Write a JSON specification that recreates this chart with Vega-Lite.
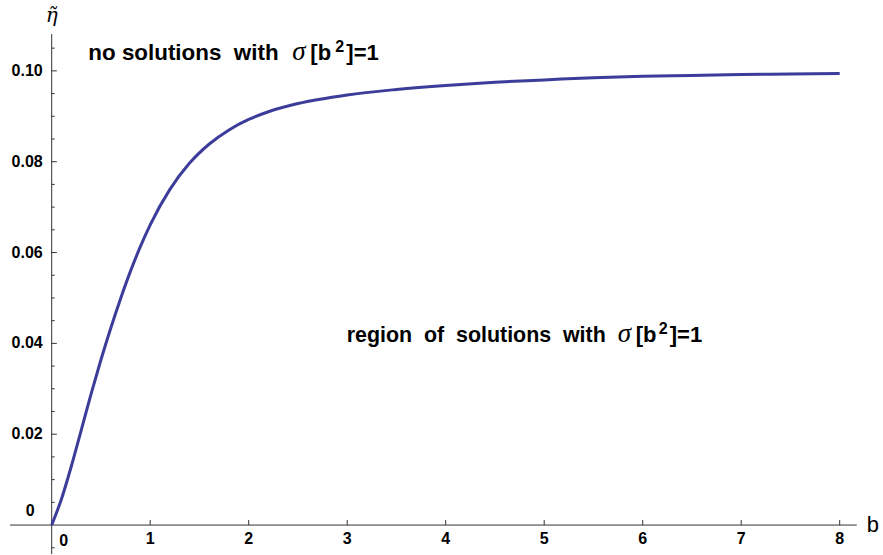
{
  "$schema": "https://vega.github.io/schema/vega-lite/v6.json",
  "width": 883,
  "height": 555,
  "autosize": {"type": "fit", "contains": "padding"},
  "padding": 0,
  "background": "white",
  "config": {"view": {"stroke": null}},
  "encoding": {
    "x": {"field": "x", "type": "quantitative", "scale": {"domain": [-0.5249, 8.4396], "nice": false, "zero": false}, "axis": null},
    "y": {"field": "y", "type": "quantitative", "scale": {"domain": [-0.006374, 0.1156], "nice": false, "zero": false}, "axis": null}
  },
  "layer": [
    {
      "data": {"values": [{"x": -0.423, "y": 0}]},
      "mark": {"type": "rule", "color": "#333333", "strokeWidth": 1},
      "encoding": {"x2": {"datum": 8.173}}
    },
    {
      "data": {"values": [{"x": 0, "y": -0.0064}]},
      "mark": {"type": "rule", "color": "#333333", "strokeWidth": 1},
      "encoding": {"y2": {"datum": 0.1081}}
    },
    {
      "data": {"values": [
        {"x": 0, "y": -0.005}, {"x": 0, "y": 0.005}, {"x": 0, "y": 0.01}, {"x": 0, "y": 0.015},
        {"x": 0, "y": 0.025}, {"x": 0, "y": 0.03}, {"x": 0, "y": 0.035},
        {"x": 0, "y": 0.045}, {"x": 0, "y": 0.05}, {"x": 0, "y": 0.055},
        {"x": 0, "y": 0.065}, {"x": 0, "y": 0.07}, {"x": 0, "y": 0.075},
        {"x": 0, "y": 0.085}, {"x": 0, "y": 0.09}, {"x": 0, "y": 0.095}, {"x": 0, "y": 0.105}
      ]},
      "mark": {"type": "rule", "color": "#333333", "strokeWidth": 1},
      "encoding": {"x2": {"datum": 0.03}}
    },
    {
      "data": {"values": [
        {"x": 0, "y": 0.02}, {"x": 0, "y": 0.04}, {"x": 0, "y": 0.06}, {"x": 0, "y": 0.08}, {"x": 0, "y": 0.1}
      ]},
      "mark": {"type": "rule", "color": "#333333", "strokeWidth": 1},
      "encoding": {"x2": {"datum": 0.052}}
    },
    {
      "data": {"values": [
        {"x": 1, "y": 0}, {"x": 2, "y": 0}, {"x": 3, "y": 0}, {"x": 4, "y": 0},
        {"x": 5, "y": 0}, {"x": 6, "y": 0}, {"x": 7, "y": 0}, {"x": 8, "y": 0}
      ]},
      "mark": {"type": "rule", "color": "#333333", "strokeWidth": 1},
      "encoding": {"y2": {"datum": 0.0011}}
    },
    {
      "data": {"values": [
        {"x": 0, "y": 0.02, "t": "0.02"}, {"x": 0, "y": 0.04, "t": "0.04"}, {"x": 0, "y": 0.06, "t": "0.06"},
        {"x": 0, "y": 0.08, "t": "0.08"}, {"x": 0, "y": 0.1, "t": "0.10"}
      ]},
      "mark": {"type": "text", "align": "right", "baseline": "middle", "dx": -9, "font": "Liberation Sans", "fontWeight": "bold", "fontSize": 16, "color": "black"},
      "encoding": {"text": {"field": "t"}}
    },
    {
      "data": {"values": [{"x": 0, "y": 0, "t": "0"}]},
      "mark": {"type": "text", "align": "right", "baseline": "middle", "dx": -17, "dy": -14, "font": "Liberation Sans", "fontWeight": "bold", "fontSize": 16, "color": "black"},
      "encoding": {"text": {"field": "t"}}
    },
    {
      "data": {"values": [{"x": 0, "y": 0, "t": "0"}]},
      "mark": {"type": "text", "align": "center", "baseline": "middle", "dx": 12, "dy": 16, "font": "Liberation Sans", "fontWeight": "bold", "fontSize": 16, "color": "black"},
      "encoding": {"text": {"field": "t"}}
    },
    {
      "data": {"values": [
        {"x": 1, "y": 0, "t": "1"}, {"x": 2, "y": 0, "t": "2"}, {"x": 3, "y": 0, "t": "3"}, {"x": 4, "y": 0, "t": "4"},
        {"x": 5, "y": 0, "t": "5"}, {"x": 6, "y": 0, "t": "6"}, {"x": 7, "y": 0, "t": "7"}, {"x": 8, "y": 0, "t": "8"}
      ]},
      "mark": {"type": "text", "align": "center", "baseline": "middle", "dy": 14, "font": "Liberation Sans", "fontWeight": "bold", "fontSize": 16, "color": "black"},
      "encoding": {"text": {"field": "t"}}
    },
    {
      "data": {"values": [
        {"x": 0, "y": 0}, {"x": 0.1, "y": 0.0058}, {"x": 0.2, "y": 0.013}, {"x": 0.3, "y": 0.0209},
        {"x": 0.4, "y": 0.0289}, {"x": 0.5, "y": 0.0364}, {"x": 0.6, "y": 0.0434}, {"x": 0.7, "y": 0.0499},
        {"x": 0.8, "y": 0.0559}, {"x": 0.9, "y": 0.0613}, {"x": 1.0, "y": 0.0661}, {"x": 1.2, "y": 0.0739},
        {"x": 1.4, "y": 0.0797}, {"x": 1.6, "y": 0.0839}, {"x": 1.8, "y": 0.087}, {"x": 2.0, "y": 0.0893},
        {"x": 2.2, "y": 0.091}, {"x": 2.5, "y": 0.0928}, {"x": 3.0, "y": 0.0947}, {"x": 3.5, "y": 0.0959},
        {"x": 4.0, "y": 0.0968}, {"x": 4.5, "y": 0.0975}, {"x": 5.0, "y": 0.098}, {"x": 5.5, "y": 0.0985},
        {"x": 6.0, "y": 0.0988}, {"x": 6.5, "y": 0.099}, {"x": 7.0, "y": 0.0992}, {"x": 7.5, "y": 0.0993},
        {"x": 8.0, "y": 0.0994}
      ]},
      "mark": {"type": "line", "color": "#3c3c9a", "strokeWidth": 3, "interpolate": "monotone"},
      "encoding": {}
    },
    {
      "data": {"values": [{"x": 8.274, "y": -0.0016, "t": "b"}]},
      "mark": {"type": "text", "align": "left", "baseline": "alphabetic", "font": "Liberation Sans", "fontSize": 22, "color": "black"},
      "encoding": {"text": {"field": "t"}}
    },
    {
      "data": {"values": [{"x": 0, "y": 0.1108, "t": "η̃"}]},
      "mark": {"type": "text", "align": "center", "baseline": "alphabetic", "font": "DejaVu Serif", "fontStyle": "italic", "fontSize": 20, "color": "black"},
      "encoding": {"text": {"field": "t"}}
    },
    {
      "data": {"values": [{"x": 0.3716, "y": 0.1024, "t": "no solutions \u00a0with"}]},
      "mark": {"type": "text", "align": "left", "baseline": "alphabetic", "font": "Liberation Sans", "fontWeight": "bold", "fontSize": 22.4, "color": "black"},
      "encoding": {"text": {"field": "t"}}
    },
    {
      "data": {"values": [{"x": 0.3716, "y": 0.1024, "t": "σ"}]},
      "mark": {"type": "text", "align": "left", "baseline": "alphabetic", "dx": 204, "font": "Liberation Serif", "fontStyle": "italic", "fontSize": 27, "color": "black"},
      "encoding": {"text": {"field": "t"}}
    },
    {
      "data": {"values": [{"x": 0.3716, "y": 0.1024, "t": "[b"}]},
      "mark": {"type": "text", "align": "left", "baseline": "alphabetic", "dx": 222, "font": "Liberation Sans", "fontWeight": "bold", "fontSize": 22, "color": "black"},
      "encoding": {"text": {"field": "t"}}
    },
    {
      "data": {"values": [{"x": 0.3716, "y": 0.1024, "t": "2"}]},
      "mark": {"type": "text", "align": "left", "baseline": "alphabetic", "dx": 247, "dy": -8, "font": "Liberation Sans", "fontWeight": "bold", "fontSize": 16, "color": "black"},
      "encoding": {"text": {"field": "t"}}
    },
    {
      "data": {"values": [{"x": 0.3716, "y": 0.1024, "t": "]=1"}]},
      "mark": {"type": "text", "align": "left", "baseline": "alphabetic", "dx": 258, "font": "Liberation Sans", "fontWeight": "bold", "fontSize": 22, "color": "black"},
      "encoding": {"text": {"field": "t"}}
    },
    {
      "data": {"values": [{"x": 2.995, "y": 0.0404, "t": "region \u00a0of \u00a0solutions \u00a0with"}]},
      "mark": {"type": "text", "align": "left", "baseline": "alphabetic", "font": "Liberation Sans", "fontWeight": "bold", "fontSize": 21.4, "color": "black"},
      "encoding": {"text": {"field": "t"}}
    },
    {
      "data": {"values": [{"x": 2.995, "y": 0.0404, "t": "σ"}]},
      "mark": {"type": "text", "align": "left", "baseline": "alphabetic", "dx": 271, "font": "Liberation Serif", "fontStyle": "italic", "fontSize": 27, "color": "black"},
      "encoding": {"text": {"field": "t"}}
    },
    {
      "data": {"values": [{"x": 2.995, "y": 0.0404, "t": "[b"}]},
      "mark": {"type": "text", "align": "left", "baseline": "alphabetic", "dx": 289, "font": "Liberation Sans", "fontWeight": "bold", "fontSize": 22, "color": "black"},
      "encoding": {"text": {"field": "t"}}
    },
    {
      "data": {"values": [{"x": 2.995, "y": 0.0404, "t": "2"}]},
      "mark": {"type": "text", "align": "left", "baseline": "alphabetic", "dx": 312, "dy": -8, "font": "Liberation Sans", "fontWeight": "bold", "fontSize": 16, "color": "black"},
      "encoding": {"text": {"field": "t"}}
    },
    {
      "data": {"values": [{"x": 2.995, "y": 0.0404, "t": "]=1"}]},
      "mark": {"type": "text", "align": "left", "baseline": "alphabetic", "dx": 323, "font": "Liberation Sans", "fontWeight": "bold", "fontSize": 22, "color": "black"},
      "encoding": {"text": {"field": "t"}}
    }
  ]
}
